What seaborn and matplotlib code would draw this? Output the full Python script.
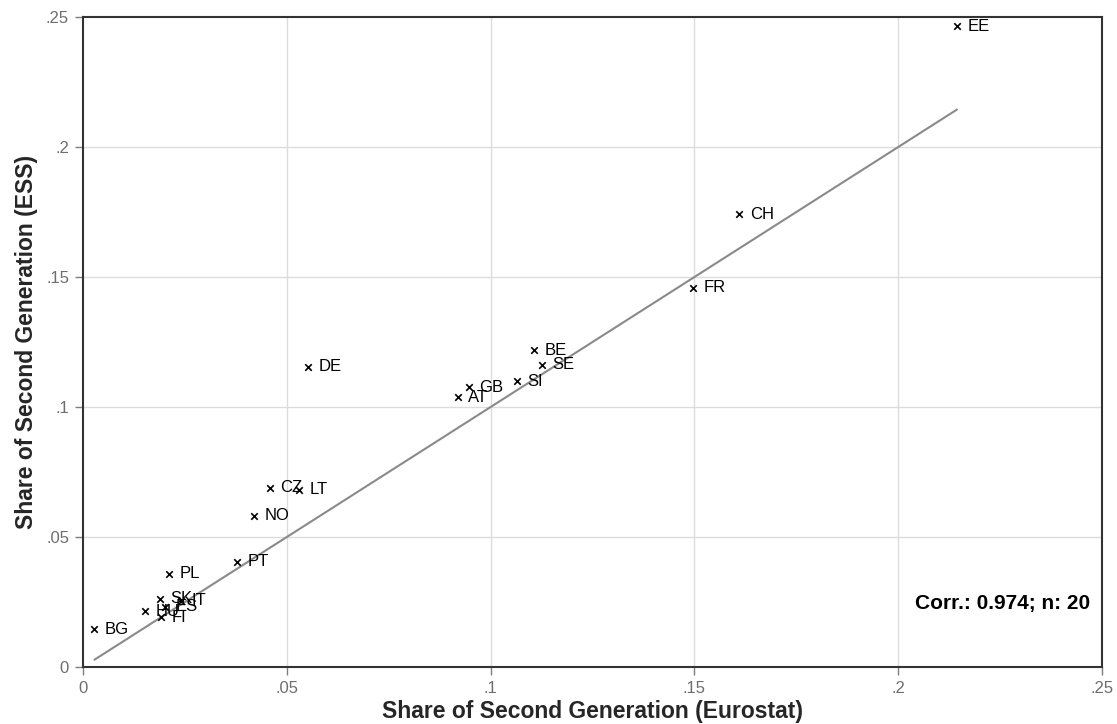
import numpy as np
import pandas as pd
import matplotlib
matplotlib.use("Agg")
import matplotlib.pyplot as plt
import seaborn as sns
from matplotlib.ticker import FuncFormatter

countries = ["EE", "CH", "FR", "BE", "SE", "SI", "GB", "AT", "DE", "CZ",
             "LT", "NO", "PT", "PL", "SK", "IT", "HU", "ES", "FI", "BG"]
eurostat = [0.2144, 0.1610, 0.1496, 0.1107, 0.1125, 0.1064, 0.0946, 0.0919, 0.0553, 0.0459,
            0.0531, 0.0420, 0.0378, 0.0212, 0.0189, 0.0240, 0.0152, 0.0202, 0.0191, 0.0028]
ess = [0.2465, 0.1742, 0.1459, 0.1219, 0.1162, 0.1100, 0.1076, 0.1037, 0.1155, 0.0690,
       0.0681, 0.0581, 0.0404, 0.0359, 0.0263, 0.0255, 0.0215, 0.0232, 0.0192, 0.0145]
ticks = [0, 0.05, 0.1, 0.15, 0.2, 0.25]
corr_text = "Corr.: 0.974; n: 20"

df = pd.DataFrame({"country": countries, "eurostat": eurostat, "ess": ess})
# 45-degree reference line over the range of the Eurostat values
diag = pd.DataFrame({"x": [min(eurostat), max(eurostat)],
                     "y": [min(eurostat), max(eurostat)]})

sns.set_style("white")
plt.rcParams["font.family"] = ["Liberation Sans", "DejaVu Sans"]

fig = plt.figure(figsize=(11.17, 7.24), dpi=100)
ax = fig.add_axes([0.0743, 0.0787, 0.9123, 0.8978])

sns.lineplot(data=diag, x="x", y="y", color="#8a8a8a", lw=1.5, ax=ax, zorder=2)
sns.scatterplot(data=df, x="eurostat", y="ess", marker="x", color="black",
                s=22, linewidth=1.2, ax=ax, zorder=3)

for c, xv, yv in zip(countries, eurostat, ess):
    ax.annotate(c, (xv, yv), xytext=(7.5, 0), textcoords="offset points",
                va="center", ha="left", fontsize=12, color="black", zorder=4)

ax.set_xlim(0, 0.25)
ax.set_ylim(0, 0.25)
ax.set_xticks(ticks)
ax.set_yticks(ticks)
fmt = FuncFormatter(lambda v, p: "0" if v == 0 else ("%g" % v).lstrip("0"))
ax.xaxis.set_major_formatter(fmt)
ax.yaxis.set_major_formatter(fmt)
ax.tick_params(axis="both", direction="out", length=6, width=1, color="#7f7f7f",
               labelcolor="#6e6e6e", labelsize=12, pad=4)
ax.yaxis.set_tick_params(which="both", left=True)
ax.xaxis.set_tick_params(which="both", bottom=True)

for v in ticks[1:-1]:
    ax.axvline(v, color="#dcdcdc", lw=1, zorder=0)
    ax.axhline(v, color="#dcdcdc", lw=1, zorder=0)

for s in ax.spines.values():
    s.set_visible(True)
    s.set_color("#333333")
    s.set_linewidth(1.5)

ax.set_xlabel("Share of Second Generation (Eurostat)", fontsize=16.5,
              fontweight="bold", labelpad=3)
ax.set_ylabel("Share of Second Generation (ESS)", fontsize=16.5,
              fontweight="bold", labelpad=6)

ax.text(0.988, 0.097, corr_text, transform=ax.transAxes, ha="right", va="center",
        fontsize=15, fontweight="bold", color="black")

fig.savefig("out.png", dpi=100)
